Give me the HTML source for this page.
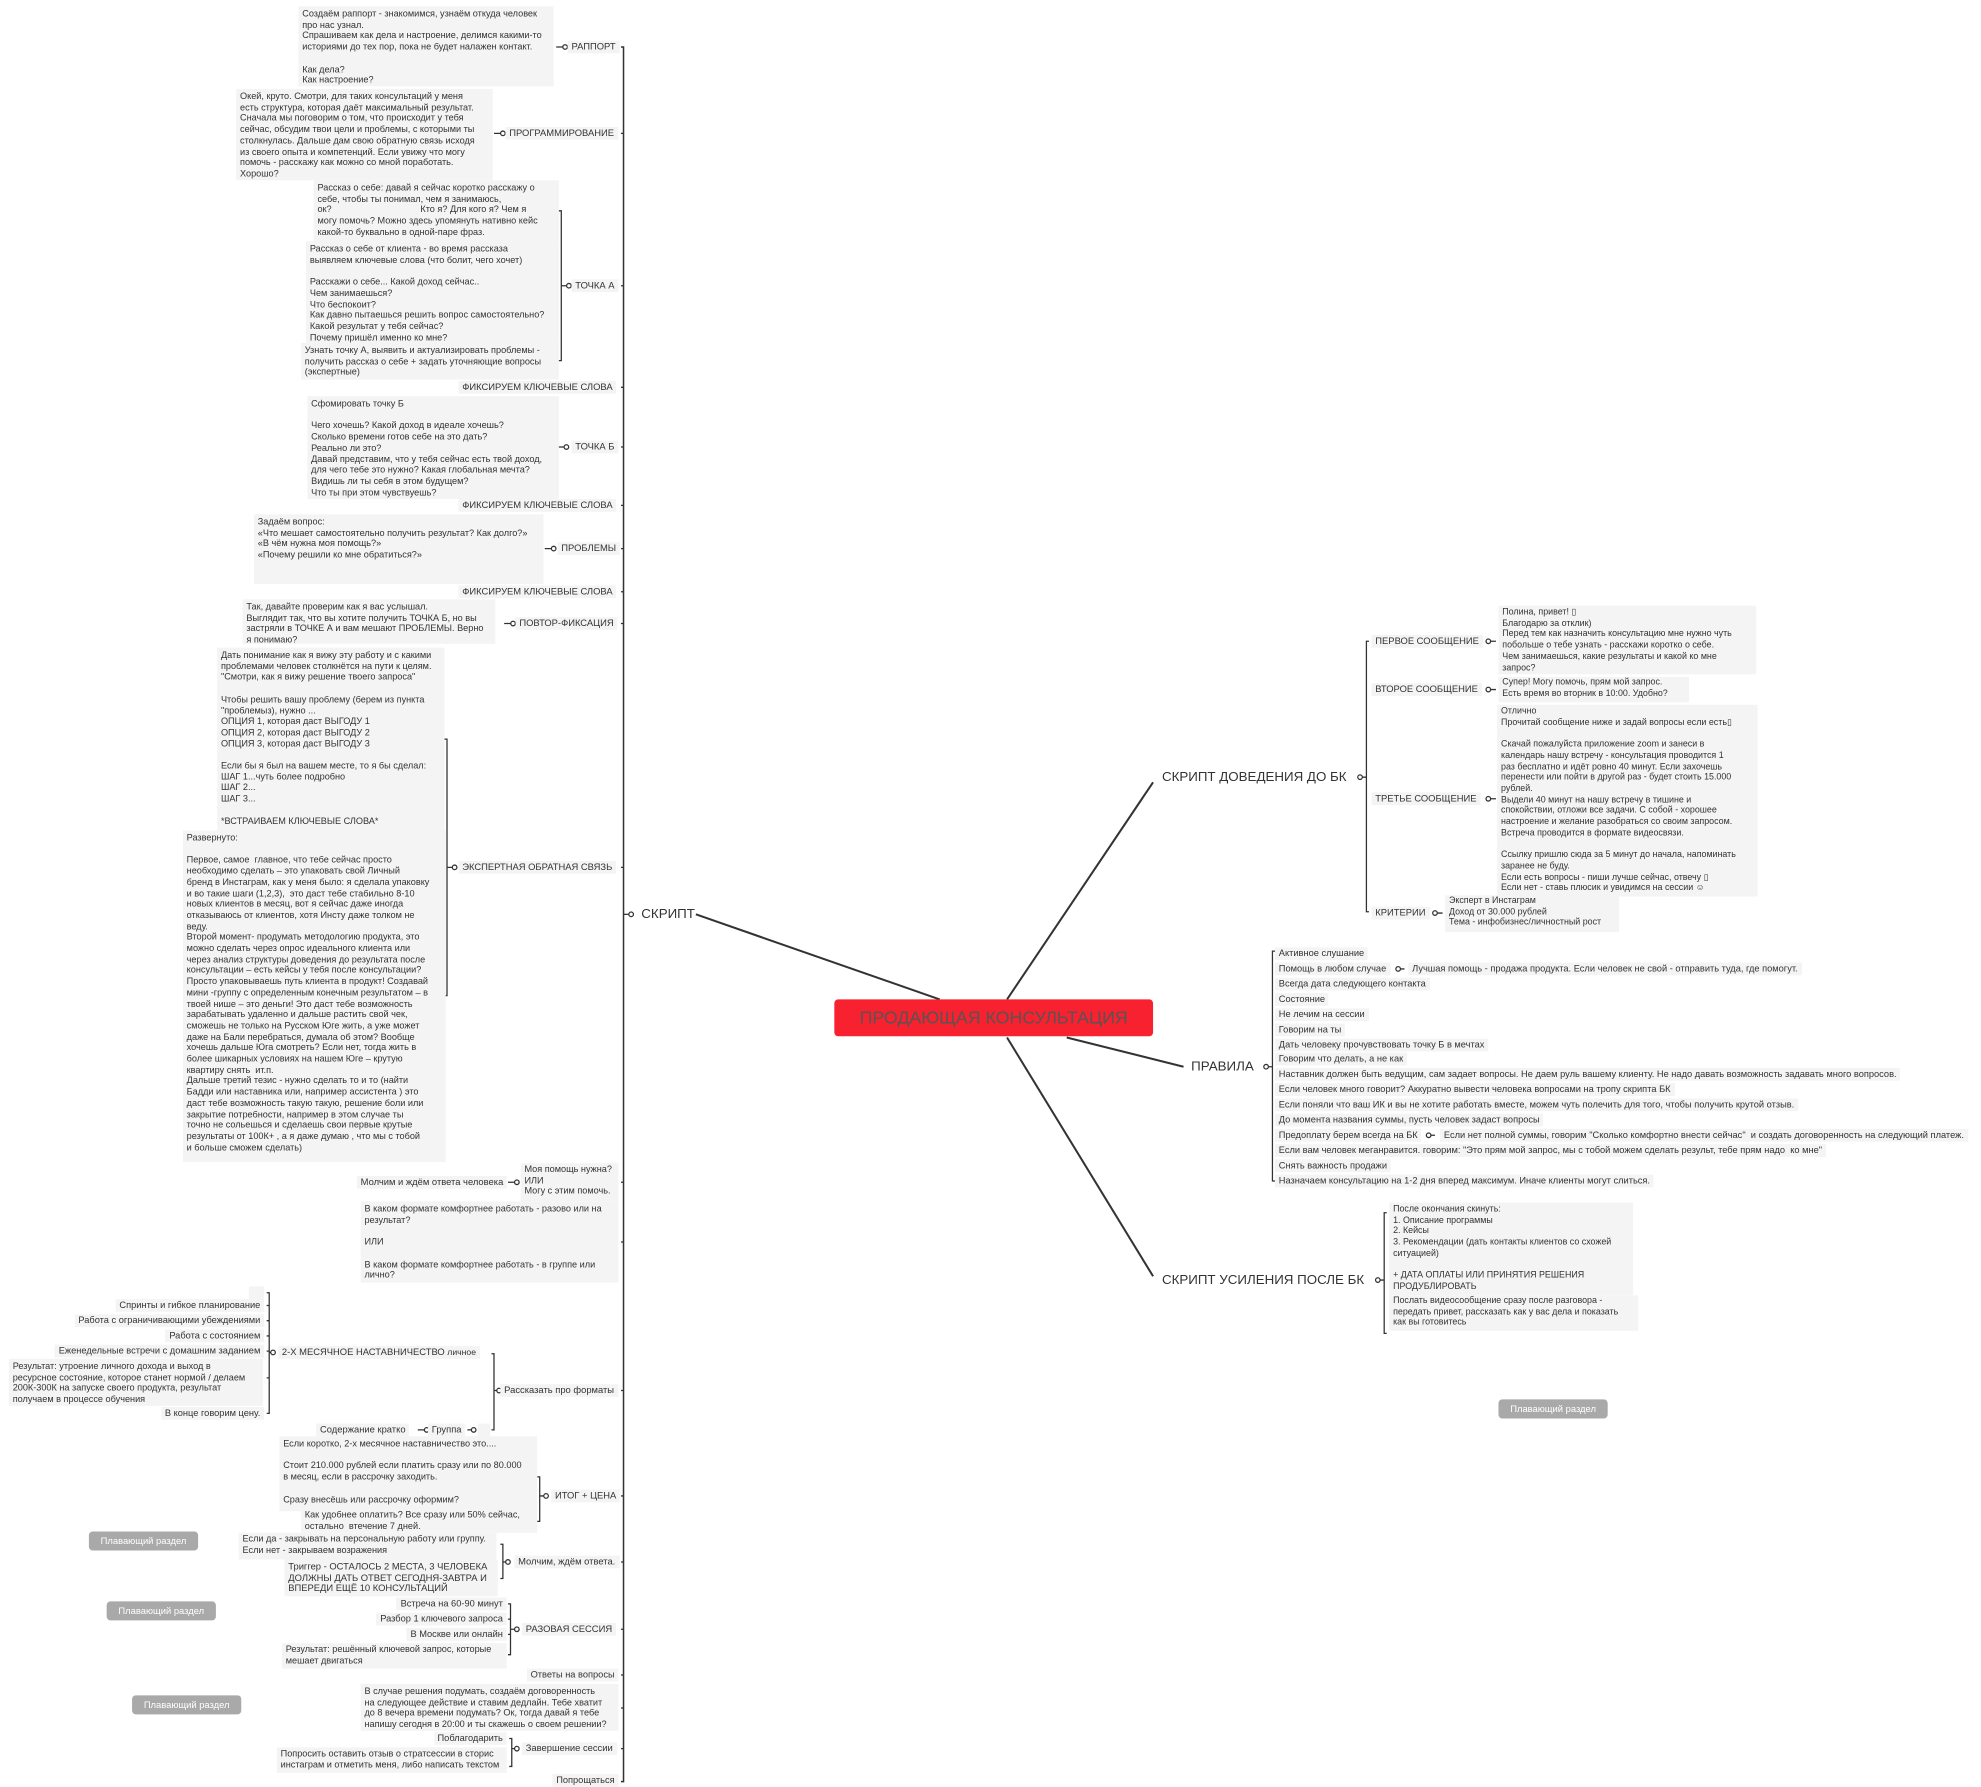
<!DOCTYPE html>
<html><head><meta charset="utf-8">
<style>
html,body{margin:0;padding:0;background:#fff;}
body{width:1981px;height:1787px;overflow:hidden;position:relative;}
#c{position:absolute;left:0;top:0;width:1560px;height:1407px;transform:scale(1.2699);transform-origin:0 0;font-family:"Liberation Sans","DejaVu Sans",sans-serif;color:#333;}
.b{position:absolute;background:#f4f4f4;font-size:7.2px;line-height:8.7px;padding:2px 3px;white-space:nowrap;box-sizing:border-box;}
.l{position:absolute;background:#f4f4f4;font-size:7.4px;line-height:10px;height:10px;padding:0 3px;white-space:nowrap;}
.r{font-size:7.3px;line-height:10px;height:10px;}
.f{position:absolute;background:#a9a9a9;color:#fff;font-size:7.4px;line-height:15px;height:15px;width:86px;text-align:center;border-radius:3px;}
.m{position:absolute;font-size:10.5px;line-height:14px;white-space:nowrap;color:#333;}
svg{position:absolute;left:0;top:0;}
</style></head><body><div id="c">
<svg width="1560" height="1407" fill="none" stroke="#333" stroke-width="1.2">
<line x1="548" y1="720" x2="740" y2="787" stroke-width="1.6"/>
<line x1="793" y1="787" x2="908" y2="616" stroke-width="1.6"/>
<line x1="840" y1="817" x2="932" y2="840" stroke-width="1.6"/>
<line x1="793" y1="817" x2="908" y2="1005" stroke-width="1.6"/>
<path d="M489 37 h2 V1403 h-2"/>
<g stroke-width="1">
<path d="M489 105h2 M489 225h2 M489 305h2 M489 352h2 M489 398h2 M489 432h2 M489 466h2 M489 491h2 M489 683h2 M489 931h2 M489 978h2 M489 1095h2 M489 1178h2 M489 1230h2 M489 1283h2 M489 1319h2 M489 1345h2 M489 1377h2"/>
<line x1="491" y1="720" x2="497" y2="720"/>
<circle cx="497" cy="720" r="1.8" fill="#fff"/>
<path d="M438 37h6 M389 105h6 M429 432h6 M397 491h6 M400 931h6 M329 1126h6 M368 1126h6"/>
<circle cx="445" cy="37" r="1.8" fill="#fff"/><circle cx="396" cy="105" r="1.8" fill="#fff"/>
<circle cx="436" cy="432" r="1.8" fill="#fff"/><circle cx="404" cy="491" r="1.8" fill="#fff"/>
<circle cx="407" cy="931" r="1.8" fill="#fff"/><circle cx="336" cy="1126" r="1.8" fill="#fff"/><circle cx="373" cy="1126" r="1.8" fill="#fff"/>
<path d="M440 166h2V284h-2 M442 225h5"/><circle cx="448" cy="225" r="1.8" fill="#fff"/>
<path d="M440 352h5"/><circle cx="446" cy="352" r="1.8" fill="#fff"/>
<path d="M350 582h2V784h-2 M352 683h5"/><circle cx="358" cy="683" r="1.8" fill="#fff"/>
<path d="M387 1066h2V1126h-2 M389 1095h4"/><circle cx="393" cy="1095" r="1.8" fill="#fff"/>
<path d="M210 1018h2V1113h-2 M210 1028h2 M210 1040h2 M210 1052h2 M210 1064h2 M210 1085h2 M212 1065h3"/><circle cx="215" cy="1065" r="1.8" fill="#fff"/>
<path d="M423 1163h2V1198h-2 M425 1178h4"/><circle cx="430" cy="1178" r="1.8" fill="#fff"/>
<path d="M394 1216h2V1243h-2 M396 1230h4"/><circle cx="400" cy="1230" r="1.8" fill="#fff"/>
<path d="M400 1263h2V1303h-2 M400 1275h2 M400 1287h2 M402 1283h4"/><circle cx="407" cy="1283" r="1.8" fill="#fff"/>
<path d="M401 1369h2V1391h-2 M403 1377h4"/><circle cx="407" cy="1377" r="1.8" fill="#fff"/>
<circle cx="1071" cy="612" r="1.8" fill="#fff"/>
<path d="M1078 505h-2V718h2 M1073 612h3"/>
<path d="M1172 505h6 M1172 543h6 M1172 629h6 M1130 719h6"/>
<circle cx="1172" cy="505" r="1.8" fill="#fff"/><circle cx="1172" cy="543" r="1.8" fill="#fff"/><circle cx="1172" cy="629" r="1.8" fill="#fff"/><circle cx="1130" cy="719" r="1.8" fill="#fff"/>
<circle cx="997" cy="840" r="1.8" fill="#fff"/>
<path d="M1004 749h-2V930h2 M999 840h3"/>
<path d="M1102 763h4 M1126 894h4"/><circle cx="1101" cy="763" r="1.8" fill="#fff"/><circle cx="1125" cy="894" r="1.8" fill="#fff"/>
<circle cx="1085" cy="1008" r="1.8" fill="#fff"/>
<path d="M1092 955h-2V1050h2 M1087 1008h3"/>
</g>
</svg>

<div class="m" style="left:505px;top:713px;">СКРИПТ</div>
<div style="position:absolute;left:657px;top:787px;width:251px;height:29px;background:#f7212f;border-radius:3px;color:#555;font-size:14px;line-height:29px;text-align:center;white-space:nowrap;">ПРОДАЮЩАЯ КОНСУЛЬТАЦИЯ</div>
<div class="m" style="left:915px;top:605px;">СКРИПТ ДОВЕДЕНИЯ ДО БК</div>
<div class="m" style="left:938px;top:833px;">ПРАВИЛА</div>
<div class="m" style="left:915px;top:1001px;">СКРИПТ УСИЛЕНИЯ ПОСЛЕ БК</div>

<div class="b" style="left:235px;top:5px;width:201px;height:63px;">Создаём раппорт - знакомимся, узнаём откуда человек<br>про нас узнал.<br>Спрашиваем как дела и настроение, делимся какими-то<br>историями до тех пор, пока не будет налажен контакт.<br><br>Как дела?<br>Как настроение?</div>
<div class="l" style="left:447px;top:32px;">РАППОРТ</div>
<div class="b" style="left:186px;top:70px;width:202px;height:72px;">Окей, круто. Смотри, для таких консультаций у меня<br>есть структура, которая даёт максимальный результат.<br>Сначала мы поговорим о том, что происходит у тебя<br>сейчас, обсудим твои цели и проблемы, с которыми ты<br>столкнулась. Дальше дам свою обратную связь исходя<br>из своего опыта и компетенций. Если увижу что могу<br>помочь - расскажу как можно со мной поработать.<br>Хорошо?</div>
<div class="l" style="left:398px;top:100px;">ПРОГРАММИРОВАНИЕ</div>
<div class="b" style="left:247px;top:142px;width:193px;height:48px;">Рассказ о себе: давай я сейчас коротко расскажу о<br>себе, чтобы ты понимал, чем я занимаюсь,<br>ок?&nbsp;&nbsp;&nbsp;&nbsp;&nbsp;&nbsp;&nbsp;&nbsp;&nbsp;&nbsp;&nbsp;&nbsp;&nbsp;&nbsp;&nbsp;&nbsp;&nbsp;&nbsp;&nbsp;&nbsp;&nbsp;&nbsp;&nbsp;&nbsp;&nbsp;&nbsp;&nbsp;&nbsp;&nbsp;&nbsp;&nbsp;&nbsp;&nbsp;&nbsp;&nbsp;Кто я? Для кого я? Чем я<br>могу помочь? Можно здесь упомянуть нативно кейс<br>какой-то буквально в одной-паре фраз.</div>
<div class="b" style="left:241px;top:190px;width:199px;height:80px;">Рассказ о себе от клиента - во время рассказа<br>выявляем ключевые слова (что болит, чего хочет)<br><br>Расскажи о себе... Какой доход сейчас..<br>Чем занимаешься?<br>Что беспокоит?<br>Как давно пытаешься решить вопрос самостоятельно?<br>Какой результат у тебя сейчас?<br>Почему пришёл именно ко мне?</div>
<div class="b" style="left:237px;top:270px;width:203px;height:29px;">Узнать точку А, выявить и актуализировать проблемы -<br>получить рассказ о себе + задать уточняющие вопросы<br>(экспертные)</div>
<div class="l" style="left:450px;top:220px;">ТОЧКА А</div>
<div class="l" style="left:361px;top:300px;">ФИКСИРУЕМ КЛЮЧЕВЫЕ СЛОВА</div>
<div class="b" style="left:242px;top:312px;width:198px;height:81px;">Сфомировать точку Б<br><br>Чего хочешь? Какой доход в идеале хочешь?<br>Сколько времени готов себе на это дать?<br>Реально ли это?<br>Давай представим, что у тебя сейчас есть твой доход,<br>для чего тебе это нужно? Какая глобальная мечта?<br>Видишь ли ты себя в этом будущем?<br>Что ты при этом чувствуешь?</div>
<div class="l" style="left:450px;top:347px;">ТОЧКА Б</div>
<div class="l" style="left:361px;top:393px;">ФИКСИРУЕМ КЛЮЧЕВЫЕ СЛОВА</div>
<div class="b" style="left:200px;top:405px;width:228px;height:55px;">Задаём вопрос:<br>«Что мешает самостоятельно получить результат? Как долго?»<br>«В чём нужна моя помощь?»<br>«Почему решили ко мне обратиться?»</div>
<div class="l" style="left:439px;top:427px;">ПРОБЛЕМЫ</div>
<div class="l" style="left:361px;top:461px;">ФИКСИРУЕМ КЛЮЧЕВЫЕ СЛОВА</div>
<div class="b" style="left:191px;top:472px;width:199px;height:35px;">Так, давайте проверим как я вас услышал.<br>Выглядит так, что вы хотите получить ТОЧКА Б, но вы<br>застряли в ТОЧКЕ А и вам мешают ПРОБЛЕМЫ. Верно<br>я понимаю?</div>
<div class="l" style="left:406px;top:486px;">ПОВТОР-ФИКСАЦИЯ</div>
<div class="b" style="left:171px;top:510px;width:179px;height:145px;">Дать понимание как я вижу эту работу и с какими<br>проблемами человек столкнётся на пути к целям.<br>"Смотри, как я вижу решение твоего запроса"<br><br>Чтобы решить вашу проблему (берем из пункта<br>"проблемыз), нужно ...<br>ОПЦИЯ 1, которая даст ВЫГОДУ 1<br>ОПЦИЯ 2, которая даст ВЫГОДУ 2<br>ОПЦИЯ 3, которая даст ВЫГОДУ 3<br><br>Если бы я был на вашем месте, то я бы сделал:<br>ШАГ 1...чуть более подробно<br>ШАГ 2...<br>ШАГ 3...<br><br>*ВСТРАИВАЕМ КЛЮЧЕВЫЕ СЛОВА*</div>
<div class="b" style="left:144px;top:654px;width:207px;height:261px;">Развернуто:<br><br>Первое, самое &nbsp;главное, что тебе сейчас просто<br>необходимо сделать – это упаковать свой Личный<br>бренд в Инстаграм, как у меня было: я сделала упаковку<br>и во такие шаги (1,2,3), &nbsp;это даст тебе стабильно 8-10<br>новых клиентов в месяц, вот я сейчас даже иногда<br>отказываюсь от клиентов, хотя Инсту даже толком не<br>веду.<br>Второй момент- продумать методологию продукта, это<br>можно сделать через опрос идеального клиента или<br>через анализ структуры доведения до результата после<br>консультации – есть кейсы у тебя после консультации?<br>Просто упаковываешь путь клиента в продукт! Создавай<br>мини -группу с определенным конечным результатом – в<br>твоей нише – это деньги! Это даст тебе возможность<br>зарабатывать удаленно и дальше растить свой чек,<br>сможешь не только на Русском Юге жить, а уже может<br>даже на Бали перебраться, думала об этом? Вообще<br>хочешь дальше Юга смотреть? Если нет, тогда жить в<br>более шикарных условиях на нашем Юге – крутую<br>квартиру снять &nbsp;ит.п.<br>Дальше третий тезис - нужно сделать то и то (найти<br>Бадди или наставника или, например ассистента ) это<br>даст тебе возможность такую такую, решение боли или<br>закрытие потребности, например в этом случае ты<br>точно не сольешься и сделаешь свои первые крутые<br>результаты от 100К+ , а я даже думаю , что мы с тобой<br>и больше сможем сделать)</div>
<div class="l" style="left:361px;top:678px;">ЭКСПЕРТНАЯ ОБРАТНАЯ СВЯЗЬ</div>
<div class="l" style="left:281px;top:926px;">Молчим и ждём ответа человека</div>
<div class="b" style="left:410px;top:916px;width:77px;height:30px;padding-top:1px;">Моя помощь нужна?<br>ИЛИ<br>Могу с этим помочь.</div>
<div class="b" style="left:284px;top:946px;width:203px;height:64px;">В каком формате комфортнее работать - разово или на<br>результат?<br><br>ИЛИ<br><br>В каком формате комфортнее работать - в группе или<br>лично?</div>
<div class="l" style="left:394px;top:1090px;">Рассказать про форматы</div>
<div class="l" style="left:219px;top:1060px;">2-Х МЕСЯЧНОЕ НАСТАВНИЧЕСТВО <span style="font-size:6.8px">личное</span></div>
<div class="l" style="left:196px;top:1013px;width:6px;"></div>
<div class="l r" style="right:1352px;top:1023px;">Спринты и гибкое планирование</div>
<div class="l r" style="right:1352px;top:1035px;">Работа с ограничивающими убеждениями</div>
<div class="l r" style="right:1352px;top:1047px;">Работа с состоянием</div>
<div class="l r" style="right:1352px;top:1059px;">Еженедельные встречи с домашним заданием</div>
<div class="b" style="left:7px;top:1070px;width:200px;height:37px;">Результат: утроение личного дохода и выход в<br>ресурсное состояние, которое станет нормой / делаем<br>200К-300К на запуске своего продукта, результат<br>получаем в процессе обучения</div>
<div class="l r" style="right:1352px;top:1108px;">В конце говорим цену.</div>
<div class="l" style="left:249px;top:1121px;">Содержание кратко</div>
<div class="l" style="left:337px;top:1121px;">Группа</div>
<div class="l" style="left:376px;top:1121px;width:4px;"></div>
<div class="b" style="left:220px;top:1131px;width:203px;height:59px;">Если коротко, 2-х месячное наставничество это....<br><br>Стоит 210.000 рублей если платить сразу или по 80.000<br>в месяц, если в рассрочку заходить.<br><br>Сразу внесёшь или рассрочку оформим?</div>
<div class="b" style="left:237px;top:1188px;width:186px;height:19px;padding-top:1px;">Как удобнее оплатить? Все сразу или 50% сейчас,<br>остально &nbsp;втечение 7 дней.</div>
<div class="l" style="left:434px;top:1173px;">ИТОГ + ЦЕНА</div>
<div class="b" style="left:188px;top:1207px;width:203px;height:21px;padding-top:1px;">Если да - закрывать на персональную работу или группу.<br>Если нет - закрываем возражения</div>
<div class="b" style="left:224px;top:1228px;width:168px;height:29px;font-size:7.4px;">Триггер - ОСТАЛОСЬ 2 МЕСТА, 3 ЧЕЛОВЕКА<br>ДОЛЖНЫ ДАТЬ ОТВЕТ СЕГОДНЯ-ЗАВТРА И<br>ВПЕРЕДИ ЕЩЁ 10 КОНСУЛЬТАЦИЙ</div>
<div class="l" style="left:405px;top:1225px;">Молчим, ждём ответа.</div>
<div class="l r" style="right:1161px;top:1258px;">Встреча на 60-90 минут</div>
<div class="l r" style="right:1161px;top:1270px;">Разбор 1 ключевого запроса</div>
<div class="l r" style="right:1161px;top:1282px;">В Москве или онлайн</div>
<div class="b" style="left:222px;top:1294px;width:177px;height:20px;padding-top:1px;">Результат: решённый ключевой запрос, которые<br>мешает двигаться</div>
<div class="l" style="left:411px;top:1278px;">РАЗОВАЯ СЕССИЯ</div>
<div class="l r" style="right:1073px;top:1314px;">Ответы на вопросы</div>
<div class="b" style="left:284px;top:1326px;width:203px;height:37px;">В случае решения подумать, создаём договоренность<br>на следующее действие и ставим дедлайн. Тебе хватит<br>до 8 вечера времени подумать? Ок, тогда давай я тебе<br>напишу сегодня в 20:00 и ты скажешь о своем решении?</div>
<div class="l r" style="right:1161px;top:1364px;">Поблагодарить</div>
<div class="b" style="left:218px;top:1376px;width:181px;height:20px;padding-top:1px;">Попросить оставить отзыв о стратсессии в сторис<br>инстаграм и отметить меня, либо написать текстом</div>
<div class="l" style="left:411px;top:1372px;">Завершение сессии</div>
<div class="l r" style="right:1073px;top:1397px;">Попрощаться</div>

<div class="f" style="left:70px;top:1206px;">Плавающий раздел</div>
<div class="f" style="left:84px;top:1261px;">Плавающий раздел</div>
<div class="f" style="left:104px;top:1335px;">Плавающий раздел</div>
<div class="f" style="left:1180px;top:1102px;">Плавающий раздел</div>

<div class="l" style="left:1080px;top:500px;">ПЕРВОЕ СООБЩЕНИЕ</div>
<div class="b" style="left:1180px;top:477px;width:203px;height:54px;font-size:7px;">Полина, привет! ▯<br>Благодарю за отклик)<br>Перед тем как назначить консультацию мне нужно чуть<br>побольше о тебе узнать - расскажи коротко о себе.<br>Чем занимаешься, какие результаты и какой ко мне<br>запрос?</div>
<div class="l" style="left:1080px;top:538px;">ВТОРОЕ СООБЩЕНИЕ</div>
<div class="b" style="left:1180px;top:533px;width:150px;height:20px;padding-top:1px;font-size:7px;">Супер! Могу помочь, прям мой запрос.<br>Есть время во вторник в 10:00. Удобно?</div>
<div class="l" style="left:1080px;top:624px;">ТРЕТЬЕ СООБЩЕНИЕ</div>
<div class="b" style="left:1179px;top:555px;width:205px;height:151px;font-size:7px;">Отлично<br>Прочитай сообщение ниже и задай вопросы если есть▯<br><br>Скачай пожалуйста приложение zoom и занеси в<br>календарь нашу встречу - консультация проводится 1<br>раз бесплатно и идёт ровно 40 минут. Если захочешь<br>перенести или пойти в другой раз - будет стоить 15.000<br>рублей.<br>Выдели 40 минут на нашу встречу в тишине и<br>спокойствии, отложи все задачи. С собой - хорошее<br>настроение и желание разобраться со своим запросом.<br>Встреча проводится в формате видеосвязи.<br><br>Ссылку пришлю сюда за 5 минут до начала, напоминать<br>заранее не буду.<br>Если есть вопросы - пиши лучше сейчас, отвечу ▯<br>Если нет - ставь плюсик и увидимся на сессии ☺</div>
<div class="l" style="left:1080px;top:714px;">КРИТЕРИИ</div>
<div class="b" style="left:1138px;top:705px;width:137px;height:29px;padding-top:1px;font-size:7px;">Эксперт в Инстаграм<br>Доход от 30.000 рублей<br>Тема - инфобизнес/личностный рост</div>

<div class="l r" style="left:1004px;top:746px;">Активное слушание</div>
<div class="l r" style="left:1004px;top:758px;">Помощь в любом случае</div>
<div class="l r" style="left:1109px;top:758px;">Лучшая помощь - продажа продукта. Если человек не свой - отправить туда, где помогут.</div>
<div class="l r" style="left:1004px;top:770px;">Всегда дата следующего контакта</div>
<div class="l r" style="left:1004px;top:782px;">Состояние</div>
<div class="l r" style="left:1004px;top:794px;">Не лечим на сессии</div>
<div class="l r" style="left:1004px;top:806px;">Говорим на ты</div>
<div class="l r" style="left:1004px;top:818px;">Дать человеку прочувствовать точку Б в мечтах</div>
<div class="l r" style="left:1004px;top:829px;">Говорим что делать, а не как</div>
<div class="l r" style="left:1004px;top:841px;">Наставник должен быть ведущим, сам задает вопросы. Не даем руль вашему клиенту. Не надо давать возможность задавать много вопросов.</div>
<div class="l r" style="left:1004px;top:853px;">Если человек много говорит? Аккуратно вывести человека вопросами на тропу скрипта БК</div>
<div class="l r" style="left:1004px;top:865px;">Если поняли что ваш ИК и вы не хотите работать вместе, можем чуть полечить для того, чтобы получить крутой отзыв.</div>
<div class="l r" style="left:1004px;top:877px;">До момента названия суммы, пусть человек задаст вопросы</div>
<div class="l r" style="left:1004px;top:889px;">Предоплату берем всегда на БК</div>
<div class="l r" style="left:1134px;top:889px;">Если нет полной суммы, говорим "Сколько комфортно внести сейчас" &nbsp;и создать договоренность на следующий платеж.</div>
<div class="l r" style="left:1004px;top:901px;">Если вам человек меганравится. говорим: "Это прям мой запрос, мы с тобой можем сделать результ, тебе прям надо &nbsp;ко мне"</div>
<div class="l r" style="left:1004px;top:913px;">Снять важность продажи</div>
<div class="l r" style="left:1004px;top:925px;">Назначаем консультацию на 1-2 дня вперед максимум. Иначе клиенты могут слиться.</div>

<div class="b" style="left:1094px;top:947px;width:192px;height:73px;font-size:7px;">После окончания скинуть:<br>1. Описание программы<br>2. Кейсы<br>3. Рекомендации (дать контакты клиентов со схожей<br>ситуацией)<br><br>+ ДАТА ОПЛАТЫ ИЛИ ПРИНЯТИЯ РЕШЕНИЯ<br>ПРОДУБЛИРОВАТЬ</div>
<div class="b" style="left:1094px;top:1020px;width:196px;height:28px;font-size:7px;padding-top:1px;">Послать видеосообщение сразу после разговора -<br>передать привет, рассказать как у вас дела и показать<br>как вы готовитесь</div>
</div></body></html>
